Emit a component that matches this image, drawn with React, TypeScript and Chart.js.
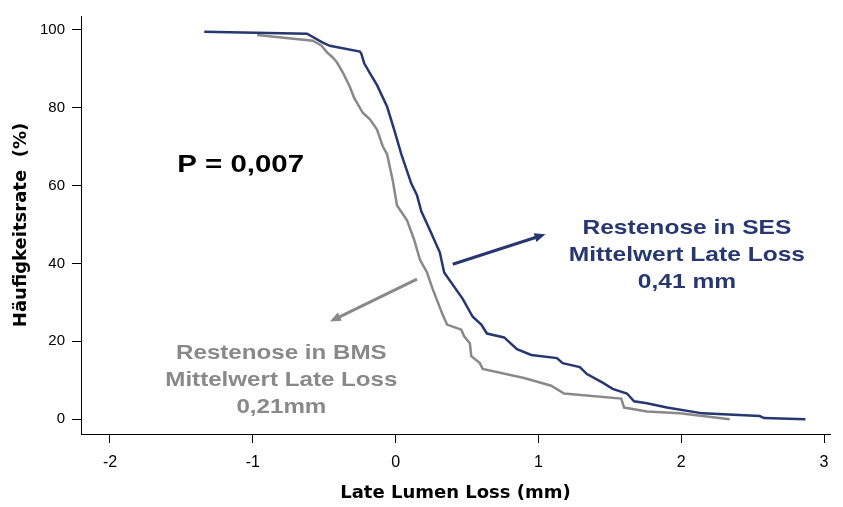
import { useEffect, useRef } from "react";
import { Chart, registerables } from "chart.js";

Chart.register(...registerables);

// ---- data ----
const sesX = [-1.34, -0.62, -0.51, -0.46, -0.25, -0.24, -0.22, -0.18, -0.13, -0.06, -0.01, 0.04, 0.11, 0.15, 0.18, 0.24, 0.31, 0.34, 0.47, 0.54, 0.6, 0.64, 0.76, 0.85, 0.95, 1.13, 1.17, 1.29, 1.34, 1.45, 1.52, 1.62, 1.67, 1.76, 1.9, 2.15, 2.55, 2.58, 2.87];
const sesY = [99.5, 99.0, 96.7, 95.9, 94.4, 93.9, 91.4, 88.9, 85.8, 80.3, 74.4, 68.1, 60.5, 57.5, 53.4, 48.6, 42.8, 37.7, 30.9, 26.3, 24.3, 22.0, 21.0, 18.0, 16.5, 15.7, 14.4, 13.4, 11.6, 9.4, 7.8, 6.6, 4.6, 4.1, 3.0, 1.5, 0.8, 0.3, 0.0];

const bmsX = [-0.97, -0.58, -0.52, -0.48, -0.44, -0.41, -0.37, -0.32, -0.29, -0.23, -0.18, -0.13, -0.09, -0.06, -0.02, 0.01, 0.08, 0.13, 0.17, 0.22, 0.26, 0.33, 0.36, 0.46, 0.48, 0.52, 0.53, 0.59, 0.61, 0.9, 1.09, 1.18, 1.58, 1.6, 1.76, 1.99, 2.34];
const bmsY = [98.7, 97.2, 96.0, 94.2, 92.9, 91.6, 89.1, 85.3, 82.5, 78.7, 77.0, 74.4, 70.1, 68.1, 61.3, 54.9, 51.1, 46.1, 41.0, 37.7, 33.4, 26.8, 24.3, 23.0, 21.3, 19.5, 16.2, 14.4, 12.9, 10.6, 8.6, 6.6, 5.3, 3.0, 2.0, 1.5, 0.0];

const xTicks = [-2, -1, 0, 1, 2, 3];
const yTicks = [0, 20, 40, 60, 80, 100];

const xTitle = "Late Lumen Loss (mm)";
const yTitle = "Häufigkeitsrate  (%)";
const pLabel = "P = 0,007";
const sesLabel = ["Restenose in SES", "Mittelwert Late Loss", "0,41 mm"];
const bmsLabel = ["Restenose in BMS", "Mittelwert Late Loss", "0,21mm"];

// annotation anchors, in data units
const sesArrowFrom = [0.4, 39.8];
const sesArrowTo = [1.05, 47.5];
const bmsArrowFrom = [0.15, 36.0];
const bmsArrowTo = [-0.46, 25.1];
const sesTextAt = [2.04, 49.0];
const bmsTextAt = [-0.8, 17.0];
const pTextAt = [-1.085, 65.2];

// ---- styles ----
const BLUE = "#27376f";
const GRAY = "#898989";
const SANS = "'Liberation Sans', Arial, Helvetica, sans-serif";

function drawText(ctx: CanvasRenderingContext2D, text: string, x: number, y: number, sx: number, font: string, color: string) {
  ctx.save();
  ctx.translate(x, y);
  ctx.scale(sx, 1);
  ctx.font = font;
  ctx.fillStyle = color;
  ctx.textAlign = "center";
  ctx.textBaseline = "middle";
  ctx.fillText(text, 0, 0);
  ctx.restore();
}

function drawArrow(ctx: CanvasRenderingContext2D, x1: number, y1: number, x2: number, y2: number, color: string, w: number) {
  const ang = Math.atan2(y2 - y1, x2 - x1);
  const head = 11;
  const half = 4.5;
  const bx = x2 - Math.cos(ang) * head;
  const by = y2 - Math.sin(ang) * head;
  ctx.save();
  ctx.strokeStyle = color;
  ctx.fillStyle = color;
  ctx.lineWidth = w;
  ctx.beginPath();
  ctx.moveTo(x1, y1);
  ctx.lineTo(bx + Math.cos(ang) * 2, by + Math.sin(ang) * 2);
  ctx.stroke();
  ctx.beginPath();
  ctx.moveTo(x2, y2);
  ctx.lineTo(bx + Math.sin(ang) * half, by - Math.cos(ang) * half);
  ctx.lineTo(bx - Math.sin(ang) * half, by + Math.cos(ang) * half);
  ctx.closePath();
  ctx.fill();
  ctx.restore();
}

const annotations = {
  id: "annotations",
  afterDatasetsDraw(chart: any) {
    const ctx: CanvasRenderingContext2D = chart.ctx;
    const xs = chart.scales.x;
    const ys = chart.scales.y;
    const px = (v: number) => xs.getPixelForValue(v);
    const py = (v: number) => ys.getPixelForValue(v);

    drawArrow(ctx, px(sesArrowFrom[0]), py(sesArrowFrom[1]), px(sesArrowTo[0]), py(sesArrowTo[1]), BLUE, 3);
    drawArrow(ctx, px(bmsArrowFrom[0]), py(bmsArrowFrom[1]), px(bmsArrowTo[0]), py(bmsArrowTo[1]), GRAY, 3);

    const lineGap = 27;
    sesLabel.forEach((t, i) => {
      drawText(ctx, t, px(sesTextAt[0]), py(sesTextAt[1]) + i * lineGap, 1.17, `bold 21px ${SANS}`, BLUE);
    });
    bmsLabel.forEach((t, i) => {
      drawText(ctx, t, px(bmsTextAt[0]), py(bmsTextAt[1]) + i * lineGap, 1.15, `bold 21px ${SANS}`, GRAY);
    });
    drawText(ctx, pLabel, px(pTextAt[0]), py(pTextAt[1]), 1.28, `bold 23px ${SANS}`, "#000");
  },
};

export default function App() {
  const ref = useRef<HTMLCanvasElement>(null);

  useEffect(() => {
    if (!ref.current) return;
    const axisGrid = {
      display: true,
      drawOnChartArea: false,
      drawTicks: true,
      tickLength: 9,
      color: "#000",
      lineWidth: 1,
    };
    const axisBorder = { display: true, color: "#000", width: 1 };
    const chart = new Chart(ref.current, {
      type: "line",
      data: {
        datasets: [
          {
            label: "SES",
            data: sesX.map((x, i) => ({ x, y: sesY[i] })),
            borderColor: BLUE,
            backgroundColor: BLUE,
            borderWidth: 2.5,
            pointRadius: 0,
            tension: 0,
            fill: false,
          },
          {
            label: "BMS",
            data: bmsX.map((x, i) => ({ x, y: bmsY[i] })),
            borderColor: GRAY,
            backgroundColor: GRAY,
            borderWidth: 2.5,
            pointRadius: 0,
            tension: 0,
            fill: false,
          },
        ],
      },
      options: {
        responsive: false,
        animation: false,
        events: [],
        layout: { padding: { top: 11, right: 13, left: 0, bottom: 0 } },
        plugins: { legend: { display: false }, tooltip: { enabled: false } },
        scales: {
          x: {
            type: "linear",
            min: -2.203,
            max: 3.042,
            afterBuildTicks: (s: any) => {
              s.ticks = xTicks.map((v) => ({ value: v }));
            },
            afterFit: (s: any) => {
              s.height = 73;
            },
            grid: axisGrid,
            border: axisBorder,
            ticks: {
              color: "#000",
              font: { family: SANS, size: 16 },
              padding: 10,
              maxRotation: 0,
              autoSkip: false,
            },
            title: {
              display: true,
              text: xTitle,
              color: "#000",
              font: { family: "'DejaVu Sans', sans-serif", size: 18, weight: "bold" },
              padding: { top: 0, bottom: 3 },
            },
          },
          y: {
            type: "linear",
            min: -3.8,
            max: 103.55,
            afterBuildTicks: (s: any) => {
              s.ticks = yTicks.map((v) => ({ value: v }));
            },
            afterFit: (s: any) => {
              s.width = 81;
            },
            grid: axisGrid,
            border: axisBorder,
            ticks: {
              color: "#000",
              font: { family: SANS, size: 15 },
              padding: 7,
              autoSkip: false,
            },
            title: {
              display: true,
              text: yTitle,
              color: "#000",
              font: { family: "'DejaVu Sans', sans-serif", size: 18, weight: "bold" },
              padding: { top: 11, bottom: 0 },
            },
          },
        },
      },
      plugins: [annotations],
    });
    return () => chart.destroy();
  }, []);

  return (
    <div style={{ position: "absolute", left: 0, top: 0, width: 843, height: 507, background: "#fff" }}>
      <canvas ref={ref} width={843} height={507} style={{ display: "block" }} />
    </div>
  );
}
